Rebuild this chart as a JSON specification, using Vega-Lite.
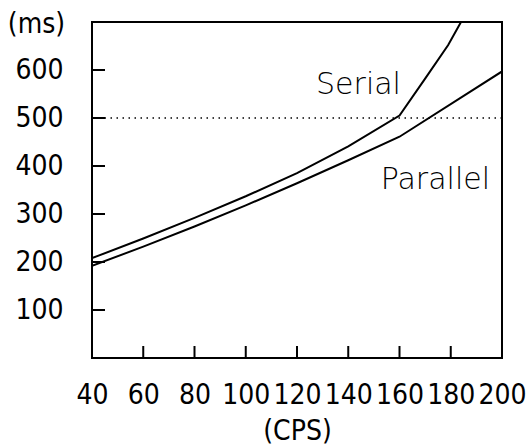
{
  "$schema": "https://vega.github.io/schema/vega-lite/v6.json",
  "width": 410,
  "height": 336,
  "autosize": {"type": "none"},
  "padding": {"left": 92, "top": 22, "right": 29, "bottom": 88},
  "background": "white",
  "config": {
    "view": {"stroke": "black", "strokeWidth": 2},
    "axis": {"grid": false, "domain": false, "ticks": false, "labelColor": "black", "titleColor": "black", "labelFont": "DejaVu Sans Condensed", "titleFont": "DejaVu Sans Condensed", "labelFontSize": 28, "titleFontSize": 28, "titleFontWeight": "normal"}
  },
  "layer": [
    {
      "data": {"values": [
        {"series": "Serial", "cps": 40, "ms": 208},
        {"series": "Serial", "cps": 60, "ms": 249},
        {"series": "Serial", "cps": 80, "ms": 292},
        {"series": "Serial", "cps": 100, "ms": 337},
        {"series": "Serial", "cps": 120, "ms": 385},
        {"series": "Serial", "cps": 140, "ms": 441},
        {"series": "Serial", "cps": 160, "ms": 505},
        {"series": "Serial", "cps": 170, "ms": 582},
        {"series": "Serial", "cps": 179, "ms": 652},
        {"series": "Serial", "cps": 184, "ms": 700},
        {"series": "Parallel", "cps": 40, "ms": 192},
        {"series": "Parallel", "cps": 60, "ms": 232},
        {"series": "Parallel", "cps": 80, "ms": 274},
        {"series": "Parallel", "cps": 100, "ms": 318},
        {"series": "Parallel", "cps": 120, "ms": 364},
        {"series": "Parallel", "cps": 140, "ms": 412},
        {"series": "Parallel", "cps": 160, "ms": 461},
        {"series": "Parallel", "cps": 200, "ms": 597}
      ]},
      "mark": {"type": "line", "color": "black", "strokeWidth": 2, "clip": true},
      "encoding": {
        "x": {"field": "cps", "type": "quantitative",
          "scale": {"domain": [40, 200], "nice": false, "zero": false},
          "axis": {"values": [40, 60, 80, 100, 120, 140, 160, 180, 200], "labelPadding": 37, "labelBaseline": "middle", "labelOverlap": false, "labelFlush": false, "title": "(CPS)", "titleX": 205, "titleY": 73, "titleBaseline": "middle", "titleAlign": "center"}},
        "y": {"field": "ms", "type": "quantitative",
          "scale": {"domain": [0, 700], "nice": false},
          "axis": {"values": [100, 200, 300, 400, 500, 600], "labelPadding": 29, "labelBaseline": "middle", "labelOverlap": false, "labelFlush": false, "title": "(ms)", "titleAngle": 0, "titleX": -56, "titleY": 2, "titleAlign": "center", "titleBaseline": "middle"}},
        "detail": {"field": "series"}
      }
    },
    {
      "data": {"values": [{"cps": 60}, {"cps": 80}, {"cps": 100}, {"cps": 120}, {"cps": 140}, {"cps": 160}, {"cps": 180}]},
      "mark": {"type": "tick", "orient": "vertical", "size": 24, "thickness": 2, "color": "black", "opacity": 1, "clip": true},
      "encoding": {
        "x": {"field": "cps", "type": "quantitative"},
        "y": {"datum": 0, "type": "quantitative"}
      }
    },
    {
      "data": {"values": [{"ms": 100}, {"ms": 200}, {"ms": 300}, {"ms": 400}, {"ms": 500}, {"ms": 600}]},
      "mark": {"type": "tick", "orient": "horizontal", "size": 26, "thickness": 2, "color": "black", "opacity": 1, "clip": true},
      "encoding": {
        "x": {"datum": 40, "type": "quantitative"},
        "y": {"field": "ms", "type": "quantitative"}
      }
    },
    {
      "data": {"values": [{"level": 500}]},
      "mark": {"type": "rule", "color": "black", "strokeWidth": 1.5, "strokeDash": [1.5, 4.5]},
      "encoding": {"y": {"field": "level", "type": "quantitative"}}
    },
    {
      "data": {"values": [
        {"label": "Serial", "cps": 144, "ms": 569},
        {"label": "Parallel", "cps": 174, "ms": 371}
      ]},
      "mark": {"type": "text", "font": "DejaVu Sans", "fontWeight": 200, "fontSize": 30, "color": "black", "align": "center", "baseline": "middle"},
      "encoding": {
        "x": {"field": "cps", "type": "quantitative"},
        "y": {"field": "ms", "type": "quantitative"},
        "text": {"field": "label"}
      }
    }
  ]
}
